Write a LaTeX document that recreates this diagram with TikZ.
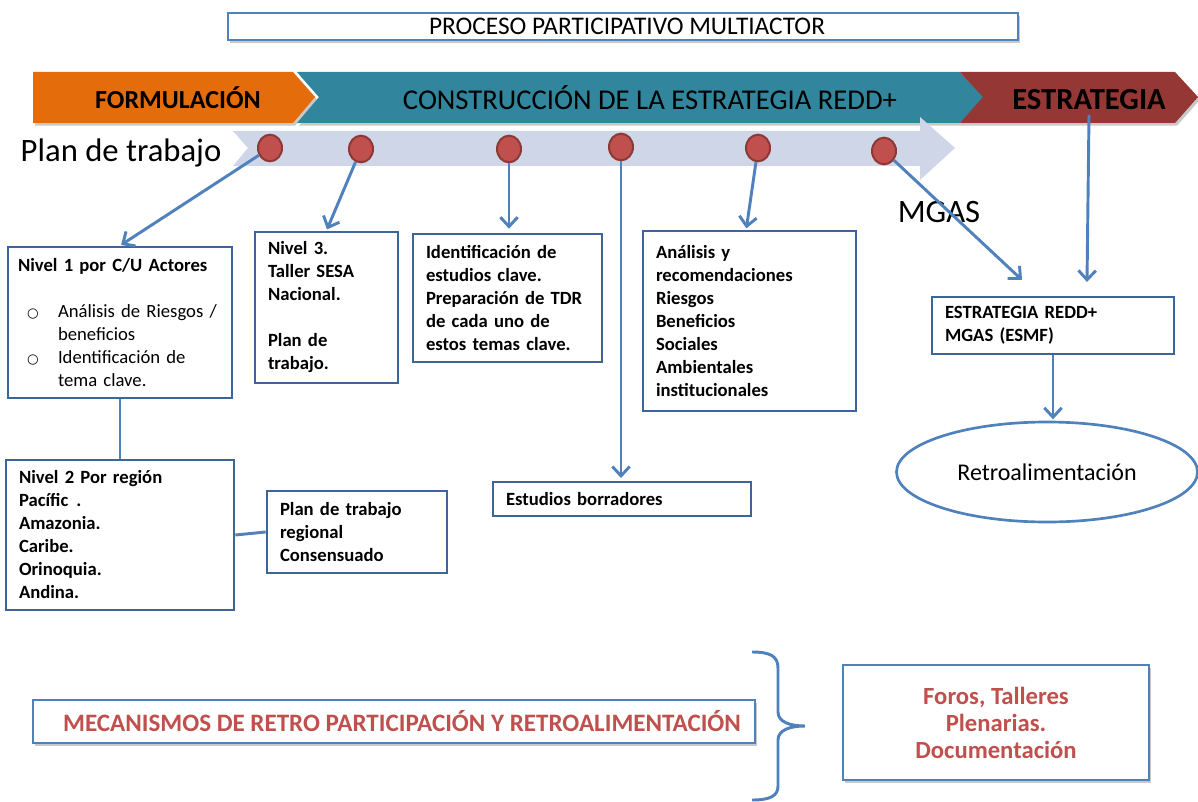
\documentclass[tikz,border=0pt]{standalone}
\usepackage{fontspec}
\setmainfont{Carlito}
\newfontfamily\dejavu{DejaVu Sans}
\usetikzlibrary{arrows.meta,shadows,calc,shapes.geometric}
\definecolor{orangec}{HTML}{E46C0A}
\definecolor{tealc}{HTML}{31859C}
\definecolor{redc}{HTML}{953735}
\definecolor{barc}{HTML}{CED6E8}
\definecolor{dotf}{HTML}{C0504D}
\definecolor{dotb}{HTML}{8C3836}
\definecolor{boxc}{HTML}{3C669A}
\definecolor{arrc}{HTML}{4F81BD}
\definecolor{txtred}{HTML}{C0504D}
\newcommand{\mybul}{\makebox[30pt][l]{\hspace{6.75pt}{\dejavu\fontsize{10}{10}\selectfont ○}}}
\tikzset{
  boxs/.style={draw=boxc, line width=2pt, fill=white, align=left, inner xsep=9.75pt, inner ysep=2pt,
    font=\bfseries\fontsize{14}{17.25}\selectfont},
  dot/.style={ellipse, draw=dotb, fill=dotf, line width=1.5pt, minimum width=18pt, minimum height=20pt, inner sep=0pt},
  arr/.style={draw=arrc, line width=2.2pt, -{Straight Barb[length=7pt,width=13pt]}},
  lin/.style={draw=arrc, line width=2.2pt},
  shad/.style={drop shadow={shadow xshift=1.5pt, shadow yshift=-2pt, opacity=0.35, fill=black!60}},
}
\begin{document}
\begin{tikzpicture}[x=0.75pt,y=-0.75pt]
\useasboundingbox[fill=white] (0,0) rectangle (1198,802);

% title
\node[draw=arrc, line width=1.8pt, fill=white, shad, minimum width=592.5pt, minimum height=20.25pt, inner sep=0pt,
  font=\fontsize{19}{21}\selectfont] (title) at (623,26.5) {\hspace*{6pt}PROCESO PARTICIPATIVO MULTIACTOR};

% chevrons
\fill[orangec, shad] (33,72) -- (293,72) -- (315,97) -- (293,123) -- (33,123) -- cycle;
\fill[tealc, shad] (297,72) -- (960,72) -- (984,97) -- (960,123) -- (297,123) -- (319,97) -- cycle;
\fill[redc, shad] (960,72) -- (1175,72) -- (1198,97) -- (1175,123) -- (960,123) -- (983,97) -- cycle;
\node[font=\bfseries\fontsize{19.5}{22}\selectfont] (form) at (178,98) {FORMULACIÓN};
\node[font=\fontsize{21.5}{24}\selectfont] (cons) at (650,98) {CONSTRUCCIÓN DE LA ESTRATEGIA REDD+};
\node[font=\bfseries\fontsize{23}{25}\selectfont] (estr) at (1089,100) {ESTRATEGIA};

% timeline bar
\fill[barc] (233,131) -- (920,131) -- (920,117) -- (955,148) -- (920,180) -- (920,166) -- (233,166) -- (248,148) -- cycle;
\node[font=\fontsize{24.5}{26}\selectfont] (plan) at (121,153) {Plan de trabajo};

% dots
\node[dot] (d1) at (270,148) {};
\node[dot] (d2) at (361,149) {};
\node[dot] (d3) at (509,149) {};
\node[dot] (d4) at (621,147) {};
\node[dot] (d5) at (758,148) {};
\node[dot] (d6) at (884,151) {};

% boxes
\node[boxs, font=\fontsize{14}{17.25}\selectfont, inner xsep=7.5pt, text width=153pt, minimum height=113.25pt] (b1) at (120,322.5)
  {\textbf{Nivel 1 por C/U Actores}\\ \mbox{}\\
   \mybul Análisis de Riesgos /\\ \hspace*{30pt}beneficios\\
   \mybul Identificación de\\ \hspace*{30pt}tema clave.};
\node[boxs, text width=87.75pt, minimum height=113.25pt] (b3) at (326.5,307.5)
  {Nivel 3.\\ Taller SESA\\ Nacional.\\ \mbox{}\\ Plan de\\ trabajo.};
\node[boxs, text width=122.25pt, minimum height=96pt] (tdr) at (507.5,298)
  {Identificación de\\ estudios clave.\\ Preparación de TDR\\ de cada uno de\\ estos temas clave.};
\node[boxs, text width=140.25pt, minimum height=135pt] (an) at (749.5,321)
  {Análisis y\\ recomendaciones\\ Riesgos\\ Beneficios\\ Sociales\\ Ambientales\\ institucionales};
\node[boxs, text width=174pt, minimum height=25.5pt] (est) at (622,499) {Estudios borradores};
\node[boxs, text width=162pt, minimum height=42.75pt] (redd) at (1053,325.5) {ESTRATEGIA REDD+\\ MGAS (ESMF)};
\node[boxs, text width=151.5pt, minimum height=112.5pt] (b2) at (120,535)
  {Nivel 2 Por región\\ Pacífic\hspace{6pt}.\\ Amazonia.\\ Caribe.\\ Orinoquia.\\ Andina.};
\node[boxs, text width=115.5pt, minimum height=61.5pt] (pr) at (357,532) {Plan de trabajo\\ regional\\ Consensuado};

\node[font=\fontsize{24.5}{26}\selectfont] (mgas) at (939,212) {MGAS};
\node[ellipse, draw=arrc, line width=2pt, fill=white, minimum width=225.75pt, minimum height=75pt,
  font=\fontsize{18}{20}\selectfont] (ell) at (1047,472) {Retroalimentación};

% bottom
\node[draw=arrc, line width=1.8pt, fill=white, shad, minimum width=541.5pt, minimum height=32.25pt, inner sep=0pt,
  text=txtred, font=\bfseries\fontsize{18.8}{20}\selectfont] (mec) at (394,721.5)
  {\hspace*{12pt}MECANISMOS DE RETRO PARTICIPACIÓN Y RETROALIMENTACIÓN};
\node[draw=arrc, line width=1.8pt, fill=white, shad, minimum width=229.5pt, minimum height=86.25pt, align=center,
  text=txtred, font=\bfseries\fontsize{18.5}{20.25}\selectfont] (foros) at (996,722.5)
  {Foros, Talleres\\ Plenarias.\\ Documentación};
\draw[lin] (752,652) .. controls (770,652) and (778,656) .. (778,668) -- (778,712)
  .. controls (778,722) and (790,726) .. (805,726)
  .. controls (790,726) and (778,730) .. (778,740) -- (778,786)
  .. controls (778,796) and (770,800) .. (752,800);

% coordinates
\coordinate (m1) at (1022,280);
\coordinate (e2) at (1087,282);
\coordinate (a5) at (746,231);

% connectors
\draw[arr, shorten >=1pt] (d1) -- (b1.north);
\draw[arr, shorten >=1pt] (d2) -- (b3.north);
\draw[arr, shorten >=3pt] (d3) -- (d3 |- tdr.north);
\draw[arr, shorten >=2pt] (d4) -- (d4 |- est.north);
\draw[arr, shorten >=2pt] (d5) -- (a5);
\draw[arr] (d6) -- (m1);
\draw[arr] (estr.south) -- (e2);
\draw[arr, shorten >=1pt] (redd.south) -- (redd.south |- ell.north);
\draw[lin] (b1.south) -- (b2.north);
\draw[lin] (b2.east) -- (pr.west);
\end{tikzpicture}
\end{document}
